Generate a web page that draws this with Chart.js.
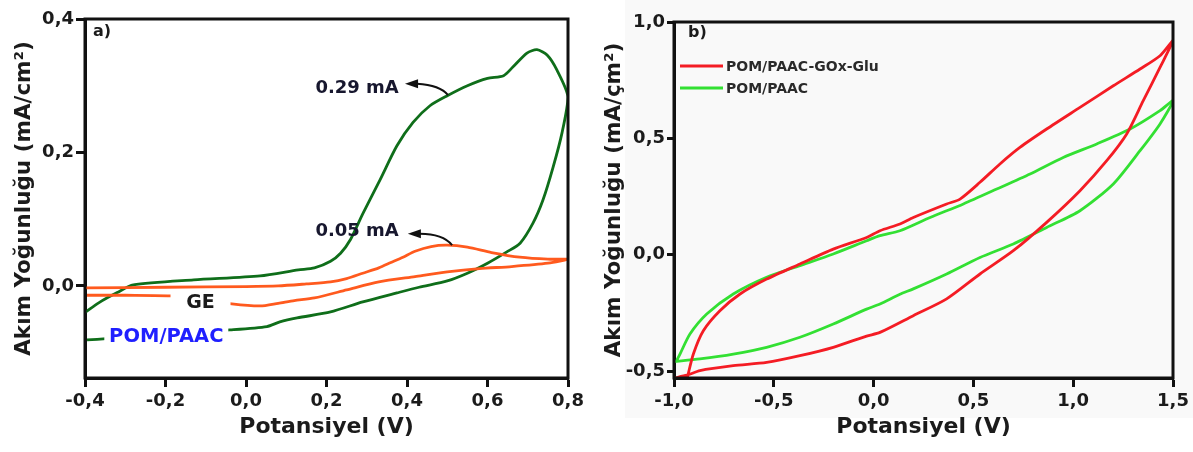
<!DOCTYPE html>
<html>
<head>
<meta charset="utf-8">
<script src="https://cdn.jsdelivr.net/npm/chart.js@4.4.1/dist/chart.umd.min.js"></script>
<style>
  html, body { margin: 0; padding: 0; background: #fff; }
  body { width: 1193px; height: 452px; position: relative; overflow: hidden; }
  #bgB { position: absolute; left: 625px; top: 0; width: 568px; height: 418px; background: #f9f9f9; }
  #chartA { position: absolute; left: 0; top: 0; }
  #chartB { position: absolute; left: 600px; top: 0; }
</style>
</head>
<body>
<div id="bgB"></div>
<canvas id="chartA" width="600" height="452"></canvas>
<canvas id="chartB" width="593" height="452"></canvas>
<script>
// a) GE and POM/PAAC voltammograms (potential V, current mA/cm2)
const aGeV = [-0.40, -0.20, 0.00, 0.08, 0.15, 0.21, 0.25, 0.29, 0.33, 0.36, 0.39, 0.42, 0.46, 0.50, 0.55, 0.61, 0.68, 0.75, 0.80,
              0.75, 0.66, 0.58, 0.50, 0.42, 0.33, 0.25, 0.17, 0.12, 0.08, 0.035, -0.035, -0.10, -0.18, -0.30, -0.395];
const aGeI = [-0.003, -0.002, -0.001, 0.000, 0.003, 0.006, 0.011, 0.019, 0.027, 0.035, 0.043, 0.052, 0.059, 0.061, 0.058, 0.050, 0.043, 0.040, 0.040,
              0.034, 0.029, 0.026, 0.021, 0.014, 0.006, -0.006, -0.018, -0.022, -0.026, -0.030, -0.027, -0.021, -0.015, -0.014, -0.014];

const aPomV = [-0.40, -0.365, -0.32, -0.28, -0.13, 0.035, 0.13, 0.17, 0.21, 0.235, 0.26, 0.29, 0.333, 0.375, 0.415, 0.457, 0.50, 0.55, 0.60, 0.64, 0.663, 0.698, 0.723, 0.748, 0.772, 0.80,
               0.785, 0.763, 0.738, 0.713, 0.681, 0.648, 0.60, 0.55, 0.50, 0.43, 0.375, 0.29, 0.21, 0.127, 0.084, 0.052, -0.04, -0.20, -0.37, -0.395];
const aPomI = [-0.040, -0.025, -0.010, 0.0015, 0.009, 0.015, 0.024, 0.027, 0.037, 0.049, 0.070, 0.108, 0.159, 0.210, 0.245, 0.270, 0.285, 0.300, 0.311, 0.315, 0.328, 0.349, 0.354, 0.346, 0.324, 0.283,
               0.229, 0.178, 0.129, 0.094, 0.064, 0.051, 0.034, 0.019, 0.0075, -0.002, -0.0105, -0.024, -0.039, -0.048, -0.054, -0.061, -0.066, -0.072, -0.080, -0.081];

// b) POM/PAAC-GOx-Glu and POM/PAAC
const bEnzV = [-1.00, -0.935, -0.87, -0.703, -0.536, -0.369, -0.202, -0.035, 0.032, 0.199, 0.366, 0.533, 0.700, 0.867, 1.034, 1.168, 1.268, 1.351, 1.435, 1.50,
               1.435, 1.335, 1.201, 1.034, 0.867, 0.733, 0.633, 0.533, 0.433, 0.366, 0.199, 0.132, 0.032, -0.035, -0.202, -0.369, -0.536, -0.669, -0.770, -0.853, -0.903, -0.933];
const bEnzI = [-0.530, -0.518, -0.498, -0.477, -0.463, -0.434, -0.398, -0.350, -0.334, -0.262, -0.190, -0.083, 0.017, 0.139, 0.275, 0.404, 0.519, 0.662, 0.805, 0.920,
               0.855, 0.798, 0.726, 0.633, 0.540, 0.461, 0.390, 0.311, 0.239, 0.218, 0.160, 0.132, 0.103, 0.074, 0.024, -0.040, -0.105, -0.169, -0.241, -0.327, -0.427, -0.527];

const bPomV = [-1.00, -0.870, -0.703, -0.536, -0.369, -0.202, -0.035, 0.032, 0.132, 0.199, 0.366, 0.533, 0.700, 0.867, 1.034, 1.201, 1.335, 1.435, 1.50,
               1.435, 1.285, 1.118, 0.950, 0.784, 0.617, 0.450, 0.283, 0.132, 0.032, -0.035, -0.202, -0.369, -0.536, -0.703, -0.836, -0.920, -0.970, -0.990];
const bPomI = [-0.460, -0.448, -0.427, -0.398, -0.355, -0.298, -0.234, -0.212, -0.170, -0.147, -0.083, -0.012, 0.046, 0.117, 0.189, 0.304, 0.447, 0.562, 0.662,
               0.619, 0.540, 0.476, 0.418, 0.347, 0.282, 0.218, 0.160, 0.103, 0.082, 0.060, 0.003, -0.047, -0.097, -0.169, -0.255, -0.341, -0.427, -0.460];

// tick labels
const aTicksX = [-0.4, -0.2, 0.0, 0.2, 0.4, 0.6, 0.8];
const aTicksY = [0.0, 0.2, 0.4];
const bTicksX = [-1.0, -0.5, 0.0, 0.5, 1.0, 1.5];
const bTicksY = [-0.5, 0.0, 0.5, 1.0];

const yTitleA = 'Akım Yoğunluğu (mA/cm²)';
const yTitleB = 'Akım Yoğunluğu (mA/çm²)';
const xTitle = 'Potansiyel (V)';

const FONT = 'DejaVu Sans';
const INK = '#1b1b1b';

const toXY = (xs, ys) => xs.map((v, i) => ({ x: v, y: ys[i] }));
const fmt = v => (Math.abs(v) < 1e-9 ? 0 : v).toFixed(1).replace('.', ',');

// annotations of panel a (data units)
const aArrows = [
  { from: [0.502, 0.286], via: [0.482, 0.301], base: [0.425, 0.303], tip: [0.395, 0.303] },
  { from: [0.512, 0.061], via: [0.489, 0.078], base: [0.432, 0.078], tip: [0.402, 0.078] }
];
const aLabels = [
  { text: '0.29 mA', at: [0.276, 0.297], size: 18, color: '#17172e' },
  { text: '0.05 mA', at: [0.276, 0.084], size: 18, color: '#17172e' },
  { text: 'GE', at: [-0.113, -0.024], size: 19, color: INK, bg: [30, 9] },
  { text: 'POM/PAAC', at: [-0.198, -0.075], size: 19.5, color: '#1f1fff', bg: [62, 10] }
];

const frame = {
  id: 'frame',
  afterDraw(chart) {
    const { ctx, chartArea: c } = chart;
    ctx.save();
    ctx.strokeStyle = '#111';
    ctx.lineWidth = 3;
    ctx.strokeRect(c.left, c.top, c.right - c.left, c.bottom - c.top);
    const tag = chart.options.plugins.frame.tag;
    ctx.fillStyle = INK;
    ctx.font = 'bold 16px "' + FONT + '"';
    ctx.textBaseline = 'middle';
    ctx.textAlign = 'left';
    ctx.fillText(tag[0], c.left + tag[1], c.top + tag[2]);
    ctx.restore();
  }
};

const notesA = {
  id: 'notesA',
  afterDatasetsDraw(chart) {
    const { ctx, scales: { x, y } } = chart;
    const px = v => x.getPixelForValue(v), py = v => y.getPixelForValue(v);
    ctx.save();
    aArrows.forEach(a => {
      ctx.strokeStyle = '#111';
      ctx.lineWidth = 2;
      ctx.beginPath();
      ctx.moveTo(px(a.from[0]), py(a.from[1]));
      ctx.quadraticCurveTo(px(a.via[0]), py(a.via[1]), px(a.base[0]), py(a.base[1]));
      ctx.stroke();
      const tx = px(a.tip[0]), ty = py(a.tip[1]), bx = px(a.base[0]) + 1;
      ctx.fillStyle = '#111';
      ctx.beginPath();
      ctx.moveTo(tx, ty);
      ctx.lineTo(bx, ty - 4.5);
      ctx.lineTo(bx, ty + 4.5);
      ctx.closePath();
      ctx.fill();
    });
    ctx.textAlign = 'center';
    ctx.textBaseline = 'middle';
    aLabels.forEach(l => {
      const cx = px(l.at[0]), cy = py(l.at[1]);
      if (l.bg) {
        ctx.fillStyle = '#fff';
        ctx.fillRect(cx - l.bg[0], cy - l.bg[1], l.bg[0] * 2, l.bg[1] * 2);
      }
      ctx.fillStyle = l.color;
      ctx.font = 'bold ' + l.size + 'px "' + FONT + '"';
      ctx.fillText(l.text, cx, cy + 1);
    });
    ctx.restore();
  }
};

const legendB = {
  id: 'legendB',
  afterDatasetsDraw(chart) {
    const { ctx, chartArea: c } = chart;
    ctx.save();
    ctx.font = 'bold 14px "' + FONT + '"';
    ctx.textBaseline = 'middle';
    ctx.textAlign = 'left';
    chart.data.datasets.forEach((ds, i) => {
      const yy = c.top + 44 + i * 22;
      ctx.strokeStyle = ds.borderColor;
      ctx.lineWidth = 3;
      ctx.beginPath();
      ctx.moveTo(c.left + 6, yy);
      ctx.lineTo(c.left + 49, yy);
      ctx.stroke();
      ctx.fillStyle = '#2a2a2a';
      ctx.fillText(ds.label, c.left + 52, yy + 1);
    });
    ctx.restore();
  }
};

function axis(ticks, min, max, titleText, opts) {
  return {
    type: 'linear',
    min: min,
    max: max,
    afterBuildTicks: s => { s.ticks = ticks.map(v => ({ value: v })); },
    afterFit: s => { if (opts.w) s.width = opts.w; if (opts.h) s.height = opts.h; },
    grid: { display: true, drawOnChartArea: false, drawTicks: true, tickLength: opts.tl, tickWidth: 3, tickColor: '#111' },
    border: { display: true, width: 3, color: '#111' },
    ticks: {
      callback: v => fmt(v),
      font: { family: FONT, size: 18, weight: 'bold' },
      color: INK,
      padding: opts.pad,
      maxRotation: 0,
      autoSkip: false
    },
    title: {
      display: true,
      text: titleText,
      font: { family: FONT, size: opts.ts, weight: 'bold' },
      color: INK,
      padding: opts.tp
    }
  };
}

function lineSet(label, xs, ys, color) {
  return {
    label: label,
    data: toXY(xs, ys),
    borderColor: color,
    borderWidth: 2.8,
    pointRadius: 0,
    tension: 0.25,
    fill: false
  };
}

new Chart(document.getElementById('chartA'), {
  type: 'line',
  data: {
    datasets: [
      lineSet('GE', aGeV, aGeI, '#ff5a1e'),
      lineSet('POM/PAAC', aPomV, aPomI, '#0f6e1a')
    ]
  },
  options: {
    responsive: false,
    animation: false,
    layout: { padding: { top: 19, right: 32, left: 0, bottom: 0 } },
    plugins: { legend: { display: false }, tooltip: { enabled: false }, frame: { tag: ['a)', 8, 13] } },
    scales: {
      x: axis(aTicksX, -0.4, 0.8, xTitle, { h: 74, tl: 9, pad: 4, ts: 22, tp: { top: 0, bottom: 12 } }),
      y: axis(aTicksY, -0.138, 0.4, yTitleA, { w: 85, tl: 9, pad: 2, ts: 21.5, tp: { top: 12, bottom: 0 } })
    }
  },
  plugins: [notesA, frame]
});

new Chart(document.getElementById('chartB'), {
  type: 'line',
  data: {
    datasets: [
      lineSet('POM/PAAC-GOx-Glu', bEnzV, bEnzI, '#f41c24'),
      lineSet('POM/PAAC', bPomV, bPomI, '#33e033')
    ]
  },
  options: {
    responsive: false,
    animation: false,
    layout: { padding: { top: 22, right: 20, left: 0, bottom: 0 } },
    plugins: { legend: { display: false }, tooltip: { enabled: false }, frame: { tag: ['b)', 14, 11] } },
    scales: {
      x: axis(bTicksX, -1.0, 1.5, xTitle, { h: 74, tl: 9, pad: 4, ts: 22, tp: { top: 0, bottom: 12 } }),
      y: axis(bTicksY, -0.53, 1.0, yTitleB, { w: 74, tl: 7, pad: 2, ts: 21.5, tp: { top: 2, bottom: 0 } })
    }
  },
  plugins: [legendB, frame]
});
</script>
</body>
</html>
